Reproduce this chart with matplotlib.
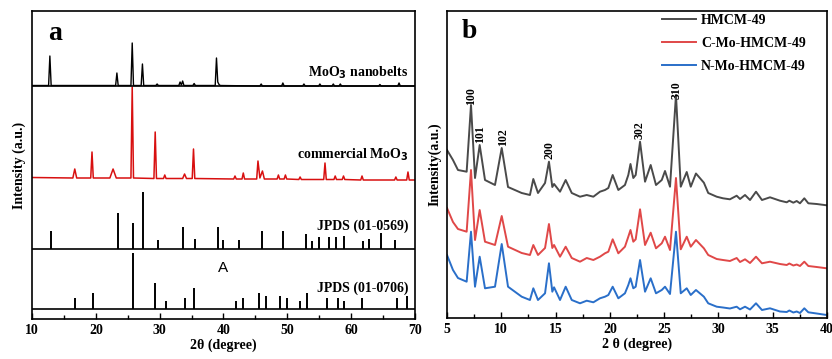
import matplotlib
matplotlib.use('Agg')
import matplotlib.pyplot as plt
from matplotlib.ticker import MultipleLocator

plt.rcParams['font.family'] = ['Liberation Serif', 'DejaVu Serif']
plt.rcParams['font.weight'] = 'bold'

# ---------- panel a data ----------
# MoO3 nanobelts trace (2theta, intensity)
nb_x = [10.0, 12.6, 12.8, 13.0, 23.1, 23.3, 23.5, 25.5, 25.7, 25.9, 27.1, 27.3, 27.5,
        29.4, 29.6, 29.8, 33.0, 33.2, 33.4, 33.6, 33.8, 35.2, 35.4, 35.6, 38.7, 38.9,
        39.1, 39.3, 39.5, 45.7, 45.9, 46.1, 49.1, 49.3, 49.5, 52.4, 52.6, 52.8, 54.9,
        55.1, 55.3, 57.0, 57.2, 57.4, 58.1, 58.3, 58.5, 64.3, 64.5, 64.7, 67.3, 67.5,
        67.7, 70.0]
nb_y = [233.5, 233.5, 263, 233.5, 233.5, 246, 233.5, 233.5, 276, 233.5, 233.5, 255, 233.5,
        233.5, 235, 233.5, 233.5, 237, 234, 238, 233.5, 233.5, 235.5, 233.5, 233.5, 261,
        237, 234.5, 233.5, 233, 235, 233, 233, 236, 233, 233, 235, 233, 233,
        235, 233, 233, 235, 233, 233, 235, 233, 233, 234.5, 233, 233, 236,
        233, 233]

# commercial MoO3 trace
cm_x = [10.0, 16.4, 16.7, 17.0, 19.2, 19.4, 19.6, 22.2, 22.7, 23.2, 25.5, 25.7, 25.9,
        29.1, 29.3, 29.5, 30.6, 30.8, 31.0, 33.6, 33.9, 34.2, 35.1, 35.3, 35.5, 41.6,
        41.8, 42.0, 42.9, 43.1, 43.3, 45.2, 45.4, 45.7, 46.1, 46.4, 48.4, 48.6, 48.8,
        49.5, 49.7, 49.9, 51.8, 52.0, 52.2, 55.7, 55.9, 56.1, 57.3, 57.5, 57.7, 58.6,
        58.8, 59.0, 61.5, 61.7, 61.9, 66.8, 67.0, 67.2, 68.7, 68.9, 69.1, 70.0]
cm_y = [141.5, 141, 150, 141, 141, 167, 141, 141, 150, 141, 141, 232, 141,
        140.5, 187, 140.5, 140.5, 144, 140.5, 140.5, 145, 140.5, 140.5, 170, 140.5, 140,
        143, 140, 140, 146, 140, 140, 158, 141, 148, 140, 140, 144, 140,
        140, 144, 140, 139.5, 142, 139.5, 139.5, 156, 139.5, 139.5, 143, 139.5, 139.5,
        143, 139.5, 139, 143, 139, 139, 142, 139, 139, 147, 139, 139]

# JPDS (01-0569) stick pattern
p569_x = [12.9, 23.4, 25.8, 27.4, 29.8, 33.7, 35.6, 39.2, 39.9, 42.5, 46.1, 49.3, 52.9,
          53.9, 55.0, 56.5, 57.6, 58.8, 61.8, 62.8, 64.7, 66.8]
p569_h = [18, 36, 26, 57, 9, 22, 10, 22, 9, 9, 18, 18, 15,
          8, 12, 12, 12, 13, 8, 10, 16, 9]

# JPDS (01-0706) stick pattern
p706_x = [16.7, 19.5, 25.8, 29.3, 31.0, 34.0, 35.4, 42.0, 43.1, 45.5, 46.6, 48.9, 49.9,
          52.0, 53.1, 56.2, 57.9, 58.9, 61.7, 67.2, 68.7]
p706_h = [11, 16, 56, 26, 8, 11, 21, 8, 11, 16, 13, 13, 11,
          8, 16, 11, 11, 8, 11, 11, 13]

# ---------- panel b data ----------
tt = [5.0, 5.55, 6.01, 6.81, 7.21, 7.58, 8.01, 8.50, 9.42, 10.04, 10.62, 11.88, 12.64,
      12.95, 13.38, 14.03, 14.39, 14.70, 14.86, 15.41, 15.93, 16.49, 17.25, 17.87, 18.48,
      19.09, 19.55, 19.86, 20.26, 20.78, 21.39, 21.70, 21.90, 22.16, 22.38, 22.78, 23.24,
      23.76, 24.25, 24.78, 25.08, 25.54, 26.09, 26.53, 27.08, 27.45, 27.93, 28.66, 29.06,
      29.84, 30.42, 31.06, 31.68, 31.99, 32.45, 32.91, 33.46, 34.01, 34.75, 35.67, 36.29,
      36.53, 36.90, 37.21, 37.51, 37.91, 38.28, 39.05, 39.97]
hmcm = [168, 158, 148, 146.3, 213, 140, 173, 138, 133, 170, 131, 125, 123,
        139, 125, 135, 156.3, 131, 134, 126.3, 138, 125, 121.3, 123, 121.3,
        126.3, 128, 130, 143, 128, 133, 143, 154, 140, 143, 176.3, 136.3,
        153, 133, 138, 147, 131.3, 223, 131.3, 146, 131.3, 144.5, 135.3, 125,
        121.3, 119.7, 118.7, 122.3, 119, 123, 118, 126.3, 118, 120.7, 117.3, 115.7,
        117.3, 115.3, 117, 114.7, 119.7, 114.7, 114, 112.7]
c_mo = [110, 96, 89, 86.3, 148, 78, 108, 76.3, 73, 102, 71.3, 65, 63,
        73, 63, 70, 94, 70, 73, 61.3, 71.3, 60, 56.3, 60, 58,
        61.3, 64.7, 66.3, 78.7, 64.7, 71.3, 81.3, 88, 76.3, 78.7, 108.7, 73,
        85.3, 69.7, 74.7, 81.3, 68, 140, 68.7, 81.3, 71.3, 78, 69.7, 63,
        59, 58, 57, 60, 56, 58.7, 55, 61.3, 54.7, 56.3, 54, 53,
        54.5, 52.5, 53.5, 52, 56.3, 52, 51, 49.7]
n_mo = [63, 48, 40, 36.3, 86.3, 31.3, 61.3, 29.7, 31.3, 74, 31.3, 21.3, 18,
        29.7, 18, 24.7, 54.7, 26.3, 30.7, 18, 31.3, 18, 14.7, 17.3, 15.7,
        19.7, 21.3, 23, 31.3, 19.7, 24.7, 33, 39.7, 29.7, 31.3, 58, 26.3,
        39.7, 24.7, 28, 31.3, 24, 86.3, 24.7, 29.7, 23, 28, 21.3, 14.7,
        11.3, 10.5, 9.5, 11.3, 8.7, 11.3, 8.5, 14.7, 8, 9.7, 6.5, 6,
        7.5, 5.5, 6.5, 5, 9.7, 5.7, 4.5, 3]

hkl = ['100', '101', '102', '200', '302', '310']
hkl_x = [7.2, 8.05, 10.15, 14.43, 22.78, 26.15]
hkl_y = [222, 184, 181, 168, 188, 228]

fig = plt.figure(figsize=(8.32, 3.59), dpi=100)

# ---------------- panel a ----------------
ax = fig.add_axes([32 / 832, 40 / 359, 383 / 832, 308 / 359])
ax.plot(nb_x, nb_y, color='black', lw=1.0)
ax.plot(cm_x, cm_y, color='#d81010', lw=1.1)
ax.vlines(p569_x, 70, [70 + h for h in p569_h], color='black', lw=1.4)
ax.vlines(p706_x, 10, [10 + h for h in p706_h], color='black', lw=1.4)
for yy in (10, 70, 233):
    ax.axhline(yy, color='black', lw=1.2)
ax.set_xlim(10, 70)
ax.set_ylim(0, 308)
ax.set_yticks([])
ax.xaxis.set_major_locator(MultipleLocator(10))
ax.xaxis.set_minor_locator(MultipleLocator(5))
ax.tick_params(axis='x', which='major', direction='in', length=4, width=1, labelsize=10)
ax.tick_params(axis='x', which='minor', direction='in', length=3, width=1)
for s in ax.spines.values():
    s.set_linewidth(1.2)
ax.set_xlabel('2θ (degree)', fontsize=10, fontweight='bold', labelpad=1)
ax.set_ylabel('Intensity (a.u.)', fontsize=10, fontweight='bold', labelpad=4)
ax.text(13.6, 286, 'a', fontsize=20, fontweight='bold', va='center', ha='center')
ax.text(69, 246, 'MoO$_\\mathbf{3}$ nanobelts', fontsize=10, ha='right', va='center')
ax.text(69, 164, 'commercial MoO$_\\mathbf{3}$', fontsize=10, ha='right', va='center')
ax.text(69, 93, 'JPDS (01-0569)', fontsize=10, ha='right', va='center')
ax.text(69, 31, 'JPDS (01-0706)', fontsize=10, ha='right', va='center')
ax.text(40, 51, 'A', fontsize=11, fontweight='normal', family='Liberation Sans',
        ha='center', va='center')
for lab in ax.get_xticklabels():
    lab.set_fontweight('bold')

# ---------------- panel b ----------------
bx = fig.add_axes([447 / 832, 41 / 359, 380 / 832, 307 / 359])
bx.plot(tt, hmcm, color='#4a4a4a', lw=1.4, label='HMCM-49')
bx.plot(tt, c_mo, color='#e04848', lw=1.4, label='C-Mo-HMCM-49')
bx.plot(tt, n_mo, color='#2a6fc9', lw=1.4, label='N-Mo-HMCM-49')
for t, xx, yy in zip(hkl, hkl_x, hkl_y):
    bx.text(xx, yy, t, rotation=90, fontsize=8.5, ha='center', va='center')
bx.set_xlim(5, 40)
bx.set_ylim(0, 307)
bx.set_yticks([])
bx.xaxis.set_major_locator(MultipleLocator(5))
bx.xaxis.set_minor_locator(MultipleLocator(2.5))
bx.tick_params(axis='x', which='major', direction='in', length=4, width=1, labelsize=10)
bx.tick_params(axis='x', which='minor', direction='in', length=3, width=1)
for s in bx.spines.values():
    s.set_linewidth(1.2)
bx.set_xlabel('2 θ (degree)', fontsize=10, fontweight='bold', labelpad=1)
bx.set_ylabel('Intensity(a.u.)', fontsize=10, fontweight='bold', labelpad=4)
bx.text(7.1, 286, 'b', fontsize=20, fontweight='bold', va='center', ha='center')
bx.legend(loc='upper left', bbox_to_anchor=(0.565, 0.99), frameon=False,
          borderaxespad=0, borderpad=0, handlelength=2.5, handletextpad=0.35,
          labelspacing=0.7, prop={'family': 'Liberation Serif', 'weight': 'bold', 'size': 10})

fig.savefig('out.png', dpi=100)
